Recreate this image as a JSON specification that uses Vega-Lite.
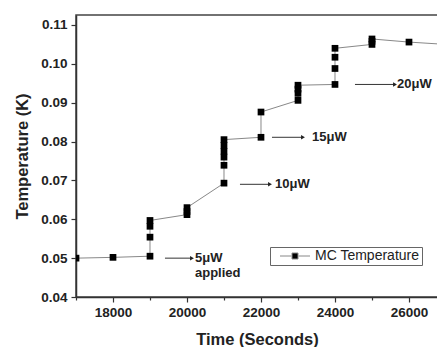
{
  "$schema": "https://vega.github.io/schema/vega-lite/v6.json",
  "width": 362,
  "height": 282,
  "autosize": "none",
  "padding": {"left": 76, "top": 15, "right": 0, "bottom": 50},
  "background": "white",
  "config": {
    "view": {"stroke": "#444", "strokeWidth": 1.5},
    "font": "Liberation Sans",
    "axis": {"grid": false, "domainColor": "#333", "domainWidth": 1.5, "tickColor": "#333", "tickWidth": 1.2, "labelFont": "Liberation Sans", "labelFontWeight": "bold", "labelFontSize": 13.5, "labelColor": "#222", "titleFont": "Liberation Sans", "titleFontWeight": "bold", "titleFontSize": 16.5, "titleColor": "#222", "labelOverlap": false}
  },
  "datasets": {
    "main": [
      {"seq": 1, "time": 17000, "temp": 0.0500, "series": "MC Temperature"},
      {"seq": 2, "time": 18000, "temp": 0.0502, "series": "MC Temperature"},
      {"seq": 3, "time": 19000, "temp": 0.0505, "series": "MC Temperature"},
      {"seq": 4, "time": 19000, "temp": 0.0554, "series": "MC Temperature"},
      {"seq": 5, "time": 19000, "temp": 0.0582, "series": "MC Temperature"},
      {"seq": 6, "time": 19000, "temp": 0.0597, "series": "MC Temperature"},
      {"seq": 7, "time": 20000, "temp": 0.0612, "series": "MC Temperature"},
      {"seq": 8, "time": 20000, "temp": 0.0620, "series": "MC Temperature"},
      {"seq": 9, "time": 20000, "temp": 0.0630, "series": "MC Temperature"},
      {"seq": 10, "time": 21000, "temp": 0.0693, "series": "MC Temperature"},
      {"seq": 11, "time": 21000, "temp": 0.0739, "series": "MC Temperature"},
      {"seq": 12, "time": 21000, "temp": 0.0760, "series": "MC Temperature"},
      {"seq": 13, "time": 21000, "temp": 0.0775, "series": "MC Temperature"},
      {"seq": 14, "time": 21000, "temp": 0.0790, "series": "MC Temperature"},
      {"seq": 15, "time": 21000, "temp": 0.0805, "series": "MC Temperature"},
      {"seq": 16, "time": 22000, "temp": 0.0811, "series": "MC Temperature"},
      {"seq": 17, "time": 22000, "temp": 0.0876, "series": "MC Temperature"},
      {"seq": 18, "time": 23000, "temp": 0.0906, "series": "MC Temperature"},
      {"seq": 19, "time": 23000, "temp": 0.0924, "series": "MC Temperature"},
      {"seq": 20, "time": 23000, "temp": 0.0935, "series": "MC Temperature"},
      {"seq": 21, "time": 23000, "temp": 0.0945, "series": "MC Temperature"},
      {"seq": 22, "time": 24000, "temp": 0.0947, "series": "MC Temperature"},
      {"seq": 23, "time": 24000, "temp": 0.0988, "series": "MC Temperature"},
      {"seq": 24, "time": 24000, "temp": 0.1017, "series": "MC Temperature"},
      {"seq": 25, "time": 24000, "temp": 0.1040, "series": "MC Temperature"},
      {"seq": 26, "time": 25000, "temp": 0.1050, "series": "MC Temperature"},
      {"seq": 27, "time": 25000, "temp": 0.1058, "series": "MC Temperature"},
      {"seq": 28, "time": 25000, "temp": 0.1064, "series": "MC Temperature"},
      {"seq": 29, "time": 26000, "temp": 0.1056, "series": "MC Temperature"},
      {"seq": 30, "time": 27000, "temp": 0.1050, "series": "MC Temperature"}
    ],
    "arrows": [
      {"x1": 19405, "x2": 20135, "y": 0.0500},
      {"x1": 21432, "x2": 22243, "y": 0.0690},
      {"x1": 22297, "x2": 23135, "y": 0.0811},
      {"x1": 24540, "x2": 25622, "y": 0.0947}
    ],
    "labels": [
      {"x": 20216, "y": 0.0500, "text": "5μW"},
      {"x": 20216, "y": 0.0461, "text": "applied"},
      {"x": 22378, "y": 0.0690, "text": "10μW"},
      {"x": 23378, "y": 0.0811, "text": "15μW"},
      {"x": 25676, "y": 0.0947, "text": "20μW"}
    ]
  },
  "layer": [
    {
      "data": {"name": "main"},
      "mark": {"type": "line", "color": "#888", "strokeWidth": 1, "clip": true},
      "encoding": {
        "x": {"field": "time", "type": "quantitative", "scale": {"domain": [17000, 26784], "nice": false, "zero": false}, "axis": {"values": [17000, 18000, 19000, 20000, 21000, 22000, 23000, 24000, 25000, 26000], "labelExpr": "datum.value % 2000 === 0 ? format(datum.value, 'd') : ''", "title": "Time (Seconds)", "tickSize": {"condition": {"test": "datum.value % 2000 === 0", "value": 5}, "value": 3}, "labelPadding": 3, "titlePadding": 13}},
        "y": {"field": "temp", "type": "quantitative", "scale": {"domain": [0.04, 0.11257], "nice": false, "zero": false}, "axis": {"values": [0.04, 0.045, 0.05, 0.055, 0.06, 0.065, 0.07, 0.075, 0.08, 0.085, 0.09, 0.095, 0.10, 0.105, 0.11], "labelExpr": "round(datum.value * 1000) % 10 === 0 ? format(datum.value, '.2f') : ''", "title": "Temperature (K)", "tickSize": {"condition": {"test": "round(datum.value * 1000) % 10 === 0", "value": 5}, "value": 3}, "labelPadding": 4, "titlePadding": 10}},
        "order": {"field": "seq", "type": "quantitative"}
      }
    },
    {
      "data": {"name": "main"},
      "mark": {"type": "point", "shape": "square", "filled": true, "size": 45, "opacity": 1, "clip": true},
      "encoding": {
        "x": {"field": "time", "type": "quantitative"},
        "y": {"field": "temp", "type": "quantitative"},
        "color": {"field": "series", "type": "nominal", "scale": {"range": ["#000"]}, "legend": {"title": null, "orient": "none", "legendX": 194, "legendY": 232, "symbolType": "M-5,0H-1.2M1.2,0H5M-1,-1H1V1H-1Z", "symbolSize": 36, "symbolStrokeColor": "#888", "symbolStrokeWidth": 1, "symbolFillColor": "#000", "symbolOffset": 16, "labelOffset": 13, "labelFont": "Liberation Sans", "labelFontSize": 14, "labelColor": "#222", "strokeColor": "#666", "padding": 2, "fillColor": "white"}}
      }
    },
    {
      "data": {"name": "arrows"},
      "mark": {"type": "rule", "color": "#333", "strokeWidth": 1},
      "encoding": {
        "x": {"field": "x1", "type": "quantitative"},
        "x2": {"field": "x2"},
        "y": {"field": "y", "type": "quantitative"}
      }
    },
    {
      "data": {"name": "arrows"},
      "mark": {"type": "point", "shape": "triangle-right", "filled": true, "color": "#222", "size": 20, "opacity": 1},
      "encoding": {
        "x": {"field": "x2", "type": "quantitative"},
        "y": {"field": "y", "type": "quantitative"}
      }
    },
    {
      "data": {"name": "labels"},
      "mark": {"type": "text", "align": "left", "baseline": "middle", "font": "Liberation Sans", "fontWeight": "bold", "fontSize": 13, "color": "#222"},
      "encoding": {
        "x": {"field": "x", "type": "quantitative"},
        "y": {"field": "y", "type": "quantitative"},
        "text": {"field": "text"}
      }
    }
  ]
}
